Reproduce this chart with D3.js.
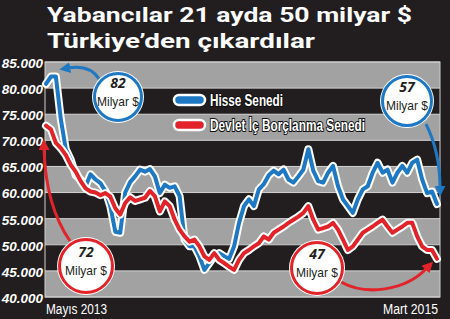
<!DOCTYPE html>
<html>
<head>
<meta charset="utf-8">
<script src="https://cdn.jsdelivr.net/npm/d3@7"></script>
<style>
  html, body { margin: 0; padding: 0; background: #221e1f; }
  svg { display: block; }
</style>
</head>
<body>
<div id="chart"></div>
<script>
const titleLines = ["Yabancılar 21 ayda 50 milyar $", "Türkiye’den çıkardılar"];
const seriesNames = ["Hisse Senedi", "Devlet İç Borçlanma Senedi"];
const xLabels = ["Mayıs 2013", "Mart 2015"];
const yTicks = [40000, 45000, 50000, 55000, 60000, 65000, 70000, 75000, 80000, 85000];

// weekly, milyon $
const hisse = [80800, 82200, 82200, 74000, 68300, 66300, 63300, 62500, 61200, 63500,
  62500, 61800, 60300, 57400, 52500, 52300, 60000, 62000, 63100, 64400,
  64000, 64500, 63100, 59900, 61500, 60900, 61200, 59300, 51000, 49700,
  49700, 47800, 45200, 46500, 47800, 48400, 47800, 47300, 49700, 54200,
  57400, 58700, 57400, 60600, 61600, 63300, 64200, 63500, 64400, 62500,
  61900, 63100, 64400, 68300, 64200, 62200, 61900, 63800, 65100, 61200,
  58700, 57400, 56100, 58700, 60600, 61200, 63800, 65700, 63800, 64400,
  61900, 63800, 65100, 63800, 65700, 66300, 62500, 59900, 60200, 57800];
const devlet = [72800, 72100, 69500, 68500, 67200, 65300, 64000, 62200, 60800, 60200,
  60000, 59500, 59900, 59200, 57000, 55800, 58000, 59100, 58400, 58700,
  59000, 60300, 59300, 56400, 58300, 57400, 54800, 52900, 51600, 50600,
  51000, 49700, 47800, 47100, 48400, 47100, 46500, 45800, 45200, 47100,
  48400, 49000, 49700, 50300, 51600, 51000, 52300, 52900, 53500, 54200,
  54800, 55400, 56100, 57400, 54800, 52900, 53200, 53500, 54200, 52900,
  51000, 49000, 49700, 51000, 52300, 52900, 53500, 54200, 54800, 53500,
  52300, 52900, 53500, 54200, 54200, 51600, 49700, 49000, 49000, 47300];

const callouts = [
  { top: "82", bottom: "Milyar $", color: "#1f78c3", cx: 118, cy: 97, r: 24,
    path: "M 99,79 C 92,68 80,66 68,68" },
  { top: "57", bottom: "Milyar $", color: "#1f78c3", cx: 407, cy: 101, r: 25,
    path: "M 426,124 C 434,140 440,162 440,188" },
  { top: "72", bottom: "Milyar $", color: "#e2232a", cx: 86, cy: 266, r: 27,
    path: "M 70,241 C 54,218 45,188 44,148" },
  { top: "47", bottom: "Milyar $", color: "#e2232a", cx: 317, cy: 268, r: 26,
    path: "M 341,282 C 366,296 405,291 427,268" }
];

const W = 450, H = 319;
const plot = { left: 45, right: 440, top: 62, bottom: 297 };
const BLUE = "#1f78c3", RED = "#e2232a";
const BG = "#221e1f", GRAY = "#a2a2a2";

const svg = d3.select("#chart").append("svg")
  .attr("width", W).attr("height", H)
  .attr("viewBox", `0 0 ${W} ${H}`);

svg.append("rect").attr("width", W).attr("height", H).attr("fill", BG);

const tr = d3.formatLocale({ decimal: ",", thousands: ".", grouping: [3], currency: ["", "$"] });
const fmt = tr.format(",");

const x = d3.scaleLinear().domain([0, hisse.length - 1]).range([plot.left + 1, plot.right - 3]);
const y = d3.scaleLinear().domain([40000, 85000]).range([plot.bottom, plot.top]);

// title
svg.append("g").selectAll("text").data(titleLines).join("text")
  .attr("x", 47)
  .attr("y", (d, i) => 22 + i * 26)
  .attr("fill", "#fff")
  .attr("font-family", "Roboto, sans-serif")
  .attr("font-weight", 700)
  .attr("font-size", 21)
  .attr("textLength", (d, i) => (i === 0 ? 365 : 268))
  .attr("lengthAdjust", "spacingAndGlyphs")
  .text((d) => d);

// bands
const bands = d3.pairs(yTicks).reverse();
svg.append("g").selectAll("rect").data(bands).join("rect")
  .attr("x", plot.left)
  .attr("width", plot.right - plot.left)
  .attr("y", (d) => y(d[1]))
  .attr("height", (d) => y(d[0]) - y(d[1]))
  .attr("fill", (d, i) => (i % 2 === 0 ? GRAY : BG));

svg.append("g").selectAll("line").data(yTicks).join("line")
  .attr("x1", plot.left).attr("x2", plot.right)
  .attr("y1", (d) => y(d)).attr("y2", (d) => y(d))
  .attr("stroke", "#d4d4d4").attr("stroke-width", 1);

svg.append("rect")
  .attr("x", plot.left).attr("y", plot.top)
  .attr("width", plot.right - plot.left).attr("height", plot.bottom - plot.top)
  .attr("fill", "none").attr("stroke", "#cfcfcf").attr("stroke-width", 1);

// y axis
const yAxis = svg.append("g")
  .attr("transform", `translate(${plot.left - 2},0)`)
  .call(d3.axisLeft(y).tickValues(yTicks).tickFormat(fmt).tickSize(0).tickPadding(0));
yAxis.select(".domain").remove();
yAxis.selectAll("text")
  .attr("fill", "#fff")
  .attr("font-family", "'Liberation Sans', sans-serif")
  .attr("font-style", "italic")
  .attr("font-weight", 700)
  .attr("font-size", 13.5)
  .attr("dy", "0.4em");

// lines
const line = d3.line().x((d, i) => x(i)).y((d) => y(d)).curve(d3.curveLinear);
const series = [{ values: hisse, color: BLUE }, { values: devlet, color: RED }];
const gLines = svg.append("g").attr("stroke-linejoin", "round").attr("stroke-linecap", "round");
series.forEach((s) => {
  gLines.append("path").attr("d", line(s.values)).attr("fill", "none")
    .attr("stroke", "#fff").attr("stroke-width", 8);
  gLines.append("path").attr("d", line(s.values)).attr("fill", "none")
    .attr("stroke", s.color).attr("stroke-width", 4);
});

// legend
const legend = svg.append("g").attr("transform", "translate(174,100)");
const legItems = legend.selectAll("g").data(seriesNames).join("g")
  .attr("transform", (d, i) => `translate(0,${i * 25})`);
legItems.append("rect")
  .attr("x", 0).attr("y", -5).attr("width", 31).attr("height", 10).attr("rx", 5)
  .attr("fill", (d, i) => series[i].color)
  .attr("stroke", "#fff").attr("stroke-width", 2.5);
legItems.append("text")
  .attr("x", 36).attr("y", 6)
  .attr("font-family", "'Liberation Sans', sans-serif")
  .attr("font-weight", 700)
  .attr("font-size", 16)
  .attr("fill", "#fff")
  .attr("stroke", "#111").attr("stroke-width", 2.2)
  .attr("paint-order", "stroke")
  .attr("textLength", (d, i) => (i === 0 ? 73 : 155))
  .attr("lengthAdjust", "spacingAndGlyphs")
  .text((d) => d);

// x labels
svg.append("g").selectAll("text").data(xLabels).join("text")
  .attr("x", (d, i) => (i === 0 ? x(0) : x(hisse.length - 1) + 1))
  .attr("y", 314)
  .attr("text-anchor", (d, i) => (i === 0 ? "start" : "end"))
  .attr("fill", "#fff")
  .attr("font-family", "'Liberation Sans', sans-serif")
  .attr("font-size", 14)
  .attr("textLength", (d, i) => (i === 0 ? 61 : 55))
  .attr("lengthAdjust", "spacingAndGlyphs")
  .text((d) => d);

// callouts
const defs = svg.append("defs");
[BLUE, RED].forEach((c, i) => {
  defs.append("marker")
    .attr("id", "arr" + i)
    .attr("viewBox", "0 0 10 10")
    .attr("refX", 2).attr("refY", 5)
    .attr("markerWidth", 11).attr("markerHeight", 11)
    .attr("markerUnits", "userSpaceOnUse")
    .attr("orient", "auto")
    .append("path").attr("d", "M0,0 L10,5 L0,10 Z").attr("fill", c);
});

const gCall = svg.append("g");
callouts.forEach((c) => {
  gCall.append("path").attr("d", c.path).attr("fill", "none")
    .attr("stroke", c.color).attr("stroke-width", 3)
    .attr("marker-end", `url(#arr${c.color === BLUE ? 0 : 1})`);
  gCall.append("circle").attr("cx", c.cx).attr("cy", c.cy).attr("r", c.r + 2)
    .attr("fill", "#fff");
  gCall.append("circle").attr("cx", c.cx).attr("cy", c.cy).attr("r", c.r - 0.5)
    .attr("fill", "#fff").attr("stroke", c.color).attr("stroke-width", 3);
  gCall.append("text").attr("x", c.cx).attr("y", c.cy - 9)
    .attr("text-anchor", "middle")
    .attr("font-family", "'Open Sans', sans-serif")
    .attr("font-weight", 700).attr("font-style", "italic")
    .attr("font-size", 14).attr("fill", "#231f20")
    .text(c.top);
  gCall.append("text").attr("x", c.cx).attr("y", c.cy + 9)
    .attr("text-anchor", "middle")
    .attr("font-family", "'Liberation Sans', sans-serif")
    .attr("font-size", 13).attr("fill", "#231f20")
    .attr("textLength", 42).attr("lengthAdjust", "spacingAndGlyphs")
    .text(c.bottom);
});
</script>
</body>
</html>
